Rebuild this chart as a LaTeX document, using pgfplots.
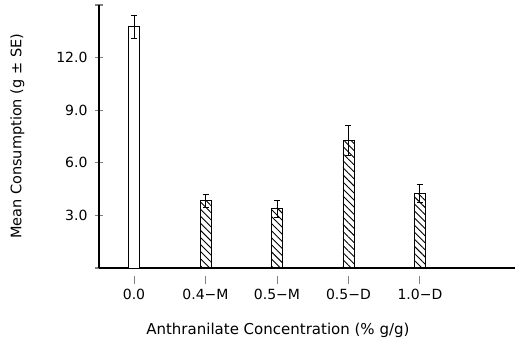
\documentclass[border=0pt]{standalone}
\usepackage{pgfplots}
\pgfplotsset{compat=1.18}
\usepackage{fontspec}
\setmainfont{DejaVu Sans}
\usetikzlibrary{patterns,patterns.meta}
\begin{document}
\begin{tikzpicture}
\begin{axis}[
  scale only axis,
  width=416pt, height=263pt,
  xmin=-0.49, xmax=5.33,
  ymin=0, ymax=15,
  axis x line=bottom, axis y line=left,
  axis line style={-, line width=1.1pt},
  xtick={0,1,2,3,4},
  xticklabels={0.0,0.4−M,0.5−M,0.5−D,1.0−D},
  ytick={0,3,6,9,12,15},
  yticklabels={,3.0,6.0,9.0,12.0,},
  ytick style={line width=1.1pt},
  xtick style={line width=0.9pt, yshift=-8pt},
  major tick length=8pt,
  ytick align=center,
  xtick align=outside,
  tick label style={font=\fontsize{14}{16}\selectfont},
  xticklabel style={yshift=-10pt},
  yticklabel style={xshift=-4pt},
  xlabel={Anthranilate Concentration (\% g/g)},
  ylabel={Mean Consumption (g ± SE)},
  xlabel style={at={(ticklabel cs:0.43)}, anchor=north, yshift=-16pt, font=\fontsize{15}{17}\selectfont},
  ylabel style={yshift=25pt, font=\fontsize{14.5}{17}\selectfont},
  ybar, bar width=11pt, bar shift=0pt,
  clip=false,
]
\coordinate (O) at (rel axis cs:0,0);
\coordinate (T) at (rel axis cs:1,1);
\addplot[draw=black, line width=0.9pt, fill=white,
  error bars/.cd, y dir=both, y explicit,
  error mark options={rotate=90, mark size=3pt, line width=0.9pt},
  error bar style={line width=0.9pt}]
  coordinates {(0,13.75) +- (0,0.65)};
\addplot[draw=black, line width=0.9pt, pattern={Lines[angle=-45,distance=5pt,line width=0.9pt]},
  error bars/.cd, y dir=both, y explicit,
  error mark options={rotate=90, mark size=3pt, line width=0.9pt},
  error bar style={line width=0.9pt}]
  coordinates {(1,3.83) +- (0,0.35) (2,3.37) +- (0,0.5) (3,7.27) +- (0,0.85) (4,4.25) +- (0,0.52)};
\end{axis}
\pgfresetboundingbox
\path[use as bounding box] ([xshift=-99pt,yshift=-73pt]O) rectangle ([yshift=5pt]T);
\end{tikzpicture}
\end{document}
